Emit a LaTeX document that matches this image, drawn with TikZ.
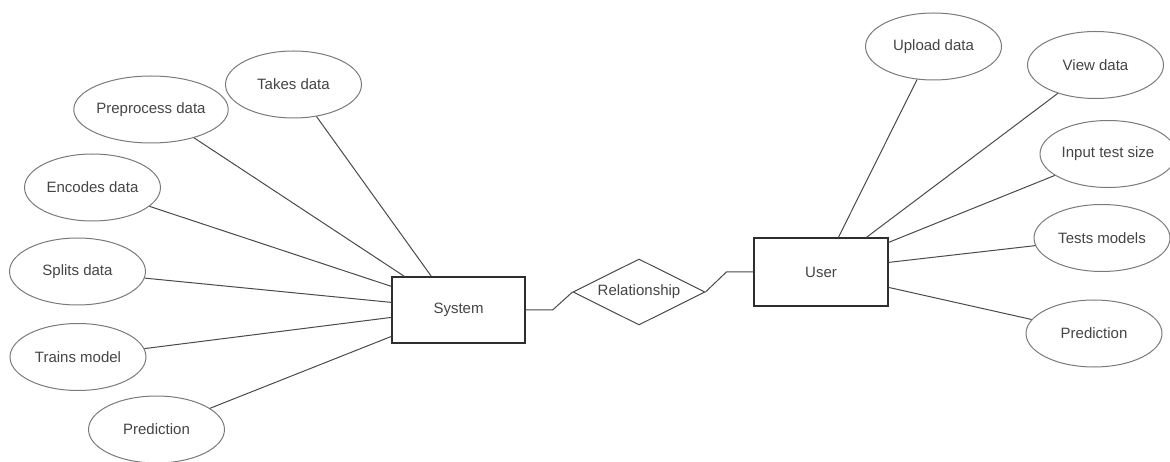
\documentclass[tikz,border=0pt]{standalone}
\usepackage{fontspec}
\setmainfont{Liberation Sans}
\usetikzlibrary{shapes.geometric,calc}

\definecolor{ovalgray}{HTML}{7A7A7A}
\definecolor{boxgray}{HTML}{2E2E2E}
\definecolor{linegray}{HTML}{4A4A4A}
\definecolor{labelgray}{HTML}{454545}

\begin{document}
\begin{tikzpicture}[x=1pt,y=-1pt,
  every node/.style={font=\fontsize{15}{18}\selectfont, text=labelgray},
  attr/.style={ellipse, draw=ovalgray, line width=1pt, inner sep=0pt,
               minimum width=136pt, minimum height=67pt},
  entity/.style={rectangle, draw=boxgray, line width=1.2pt, inner sep=0pt},
  relbox/.style={diamond, draw=linegray, line width=1pt, inner sep=0pt,
                 aspect=2, minimum width=132pt, minimum height=66pt},
  link/.style={draw=linegray, line width=1pt}]

% canvas
\path[fill=white, use as bounding box] (0,0) rectangle (1170,462);

% entities and relationship
\node[entity, minimum width=133pt, minimum height=66pt] (sys) at (458.5,310) {System};
\node[entity, minimum width=134pt, minimum height=68pt] (user) at (821,272) {User};
\node[relbox] (rel) at (639,292) {Relationship};

% attributes of System
\node[attr] (takes) at (293.5,84.5)  {Takes data};
\node[attr] (prep)  at (151,109.5)   {Preprocess data};
\node[attr] (enc)   at (92.5,187.5)  {Encodes data};
\node[attr] (split) at (77.5,271.5)  {Splits data};
\node[attr] (train) at (78,357)      {Trains model};
\node[attr] (predl) at (156.5,429.5) {Prediction};

% attributes of User
\node[attr] (upload) at (933.5,46.5) {Upload data};
\node[attr] (view)   at (1095.5,65)  {View data};
\node[attr] (input)  at (1108,154)   {Input test size};
\node[attr] (tests)  at (1102,238)   {Tests models};
\node[attr] (predr)  at (1094,333.5) {Prediction};

% System links
\draw[link] ($(sys.north west)+(40,0)$) -- (takes);
\draw[link] ($(sys.north west)+(13,0)$) -- (prep);
\draw[link] ($(sys.north west)+(0,10)$) -- (enc);
\draw[link] ($(sys.north west)+(0,26)$) -- (split);
\draw[link] ($(sys.north west)+(0,41)$) -- (train);
\draw[link] ($(sys.north west)+(0,60)$) -- (predl);

% User links
\draw[link] ($(user.north west)+(85,0)$)  -- (upload);
\draw[link] ($(user.north west)+(113,0)$) -- (view);
\draw[link] ($(user.north east)+(0,5)$)   -- (input);
\draw[link] ($(user.north east)+(0,25)$)  -- (tests);
\draw[link] ($(user.north east)+(0,50)$)  -- (predr);

% relationship links
\draw[link] (sys.east) -- ($(sys.east)+(27,0)$) -- (rel.west);
\draw[link] (rel.east) -- ($(user.west)+(-27,0)$) -- (user.west);
\end{tikzpicture}
\end{document}
